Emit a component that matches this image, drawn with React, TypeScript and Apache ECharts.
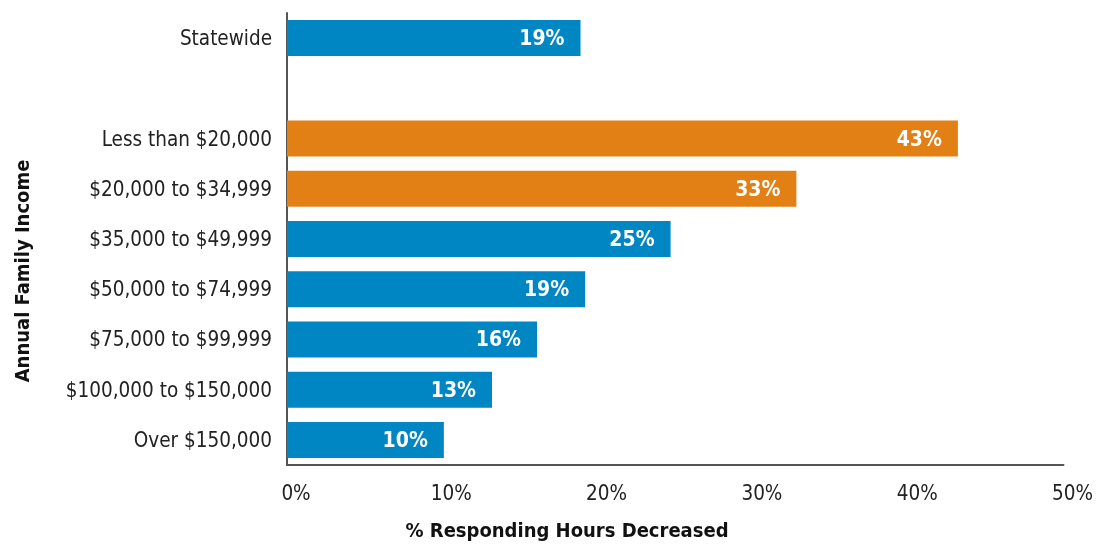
import React, { useEffect, useRef } from "react";
import * as echarts from "echarts";

const categories = [
  "Statewide",
  "",
  "Less than $20,000",
  "$20,000 to $34,999",
  "$35,000 to $49,999",
  "$50,000 to $74,999",
  "$75,000 to $99,999",
  "$100,000 to $150,000",
  "Over $150,000",
];
const values: (number | null)[] = [18.9, null, 43.2, 32.8, 24.7, 19.2, 16.1, 13.2, 10.1];
const valueLabels = ["19%", "", "43%", "33%", "25%", "19%", "16%", "13%", "10%"];
const highlighted = [false, false, true, true, false, false, false, false, false];
const xTicks = [0, 10, 20, 30, 40, 50];

const BLUE = "#0086c3";
const ORANGE = "#e38015";
const FONT = "'DejaVu Sans Condensed', 'Liberation Sans Narrow', sans-serif";

export default function App() {
  const ref = useRef<HTMLDivElement>(null);
  useEffect(() => {
    if (!ref.current) return;
    const chart = echarts.init(ref.current, null, { renderer: "svg" });
    chart.setOption({
      animation: false,
      grid: { left: 287, right: 29, top: 13, bottom: 80, containLabel: false },
      xAxis: {
        type: "value",
        min: xTicks[0],
        max: xTicks[xTicks.length - 1],
        interval: 10,
        axisLine: { show: true, lineStyle: { color: "#555", width: 2 } },
        axisTick: { show: false },
        splitLine: { show: false },
        axisLabel: {
          formatter: (v: number) => `${v}%`,
          fontFamily: FONT,
          fontSize: 20.5,
          color: "#222",
          margin: 17,
          padding: [0, 0, 0, 18],
        },
      },
      yAxis: {
        type: "category",
        inverse: true,
        data: categories,
        axisLine: { show: true, lineStyle: { color: "#555", width: 2 } },
        axisTick: { show: false },
        axisLabel: {
          fontFamily: FONT,
          fontSize: 20.5,
          color: "#222",
          margin: 15,
        },
      },
      graphic: [
        {
          type: "text",
          x: 567,
          y: 530,
          style: {
            text: "% Responding Hours Decreased",
            fontFamily: FONT,
            fontSize: 20,
            fontWeight: "bold",
            fill: "#111",
            textAlign: "center",
            textVerticalAlign: "middle",
          },
        },
        {
          type: "text",
          x: 22,
          y: 271,
          rotation: Math.PI / 2,
          style: {
            text: "Annual Family Income",
            fontFamily: FONT,
            fontSize: 20,
            fontWeight: "bold",
            fill: "#111",
            textAlign: "center",
            textVerticalAlign: "middle",
          },
        },
      ],
      series: [
        {
          type: "bar",
          barWidth: 36,
          data: values.map((v, i) => ({
            value: v,
            itemStyle: { color: highlighted[i] ? ORANGE : BLUE },
          })),
          label: {
            show: true,
            position: "insideRight",
            distance: 16,
            formatter: (p: any) => valueLabels[p.dataIndex],
            color: "#fff",
            fontFamily: FONT,
            fontWeight: "bold",
            fontSize: 21,
          },
        },
      ],
    });
    return () => chart.dispose();
  }, []);
  return (
    <div
      ref={ref}
      style={{ position: "fixed", left: 0, top: 0, width: 1096, height: 545 }}
    />
  );
}
